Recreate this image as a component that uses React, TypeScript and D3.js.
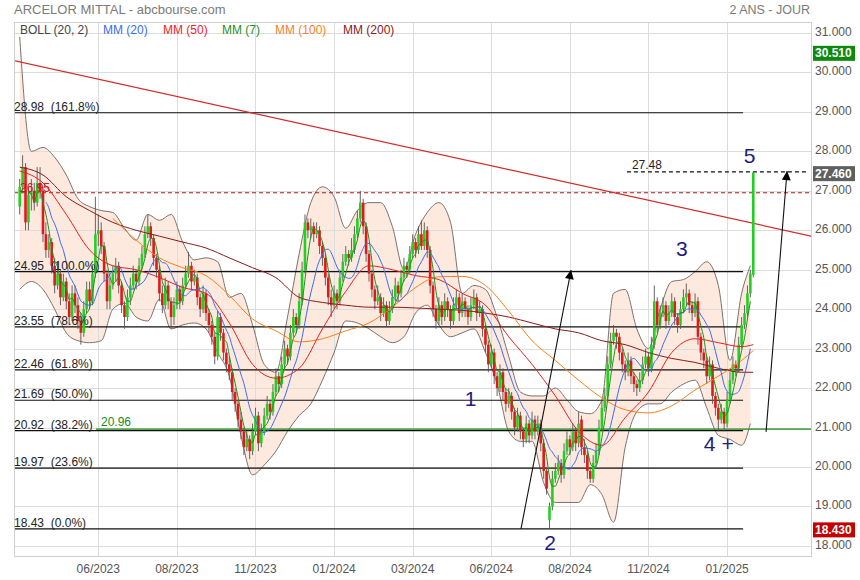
import React from 'react';
import * as d3 from 'd3';

// ---------- DATA ----------
const opens = [
  26.6, 27.1, 27.6, 26.2, 26.9, 27.0, 26.7, 27.2, 27.0, 25.9,
  25.5, 25.7, 25.1, 24.6, 24.9, 24.3, 24.7, 24.2, 23.8, 24.4,
  24.1, 23.7, 23.4, 24.0, 24.5, 24.2, 24.9, 25.9, 26.0, 25.6,
  24.9, 24.2, 24.6, 24.9, 25.1, 24.6, 24.1, 23.8, 24.3, 24.6,
  24.9, 24.7, 25.1, 25.4, 25.9, 26.1, 25.8, 25.3, 25.0, 24.4,
  24.1, 24.6, 24.2, 23.8, 24.1, 24.5, 24.2, 24.6, 24.9, 25.1,
  24.7, 24.8, 24.3, 24.0, 24.4, 23.9, 23.6, 23.3, 22.8, 23.8,
  23.4, 22.9, 22.6, 22.4, 21.9, 21.6, 21.2, 20.9, 20.5, 20.7,
  20.4, 20.9, 21.3, 20.6, 20.9, 21.3, 21.6, 21.4, 21.9, 22.3,
  22.1, 22.6, 23.0, 22.8, 23.4, 23.8, 23.6, 24.2, 25.0, 26.2,
  26.0, 26.1, 25.9, 26.0, 25.6, 25.3, 24.8, 24.3, 24.1, 24.4,
  24.2, 24.8, 25.2, 25.4, 25.3, 25.5, 25.9, 26.3, 26.7, 26.1,
  25.4, 24.9, 24.5, 24.2, 24.3, 23.9, 24.1, 23.7, 24.0, 24.3,
  24.6, 24.4, 24.8, 25.1, 25.0, 25.4, 25.7, 25.5, 25.9, 25.6,
  26.0, 25.5, 24.6, 24.0, 23.7, 24.1, 23.8, 24.2, 24.0, 23.7,
  24.1, 24.3, 23.9, 24.2, 24.0, 23.8, 24.1, 24.3, 23.9, 24.0,
  23.5, 23.1, 22.6, 22.9, 22.3, 22.0, 22.4, 21.9, 21.6, 21.8,
  21.4, 21.0, 21.3, 20.9, 20.7, 21.1, 20.8, 21.2, 20.9, 21.1,
  20.6, 19.9, 18.65, 19.0, 19.7, 19.9, 20.1, 19.8, 20.4, 20.7,
  20.5, 20.9, 20.6, 21.2, 20.5, 20.3, 19.9, 19.7, 20.1, 20.4,
  21.0, 21.5, 21.8, 22.6, 23.2, 23.4, 23.3, 22.9, 22.6, 22.4,
  22.7, 22.3, 22.1, 22.0, 22.2, 22.6, 22.8, 22.5, 23.1, 24.2,
  23.6, 23.9, 24.1, 23.7, 23.9, 24.2, 23.8, 23.6, 24.0, 24.3,
  24.4, 24.1, 23.9, 24.2, 23.3, 22.9, 22.7, 22.3, 22.6, 21.8,
  21.5, 21.2, 21.4, 21.1, 21.7, 22.2, 22.6, 22.5, 23.1, 23.6,
  23.9, 24.4, 24.87,
];
const highs = [
  27.3, 27.9, 27.7, 27.1, 27.3, 27.2, 27.6, 27.6, 27.1, 26.2,
  25.9, 25.8, 25.3, 25.2, 25.0, 24.9, 24.8, 24.4, 24.6, 24.6,
  24.3, 23.9, 24.2, 24.7, 24.7, 25.1, 26.85, 26.4, 26.2, 25.7,
  25.0, 24.8, 25.1, 25.3, 25.2, 24.7, 24.2, 24.5, 24.8, 25.1,
  25.0, 25.3, 25.6, 26.1, 26.4, 26.2, 25.9, 25.4, 25.1, 24.6,
  24.8, 24.7, 24.3, 24.3, 24.7, 24.6, 24.8, 25.1, 25.45, 25.2,
  25.0, 24.9, 24.4, 24.6, 24.5, 24.0, 23.7, 23.4, 23.95, 23.9,
  23.5, 23.0, 22.8, 22.5, 22.0, 21.7, 21.4, 21.0, 20.9, 20.8,
  21.1, 21.5, 21.4, 21.1, 21.5, 21.8, 21.7, 22.1, 22.5, 22.4,
  22.8, 23.2, 23.1, 23.6, 24.0, 23.9, 24.4, 25.2, 26.4, 26.3,
  26.3, 26.2, 26.2, 26.1, 25.7, 25.4, 24.9, 24.5, 24.6, 24.5,
  25.0, 25.4, 25.6, 25.5, 25.8, 26.1, 26.5, 27.0, 26.8, 26.2,
  25.5, 25.0, 24.6, 24.6, 24.4, 24.3, 24.2, 24.2, 24.5, 24.8,
  24.7, 25.0, 25.3, 25.2, 25.6, 25.9, 25.8, 26.1, 26.25, 26.2,
  26.1, 25.6, 24.7, 24.1, 24.3, 24.2, 24.4, 24.3, 24.1, 24.3,
  24.5, 24.4, 24.4, 24.3, 24.1, 24.3, 24.5, 24.4, 24.2, 24.1,
  23.6, 23.2, 23.1, 23.0, 22.4, 22.6, 22.5, 22.0, 22.0, 21.9,
  21.5, 21.5, 21.4, 21.0, 21.3, 21.2, 21.4, 21.3, 21.3, 21.2,
  20.7, 20.0, 19.1, 19.9, 20.1, 20.3, 20.2, 20.6, 20.9, 20.8,
  21.1, 21.0, 21.4, 21.3, 20.7, 20.4, 20.0, 20.3, 20.6, 21.2,
  21.7, 22.0, 22.8, 23.4, 23.6, 23.5, 23.4, 23.0, 22.7, 22.9,
  22.8, 22.4, 22.2, 22.4, 22.8, 23.0, 22.9, 23.3, 24.6, 24.3,
  24.1, 24.3, 24.2, 24.1, 24.4, 24.3, 23.9, 24.2, 24.5, 24.65,
  24.5, 24.2, 24.4, 24.3, 23.4, 23.0, 22.8, 22.8, 22.7, 21.9,
  21.6, 21.6, 21.5, 21.9, 22.4, 22.8, 22.7, 23.3, 23.8, 24.1,
  24.6, 25.0, 27.48,
];
const lows = [
  26.4, 27.0, 26.0, 26.0, 26.5, 26.5, 26.6, 26.8, 25.7, 25.3,
  25.3, 24.9, 24.4, 24.5, 24.1, 24.2, 24.0, 23.6, 23.7, 23.9,
  23.5, 23.1, 23.3, 23.9, 24.0, 24.1, 24.8, 25.6, 25.4, 24.7,
  24.0, 24.0, 24.5, 24.7, 24.4, 23.9, 23.5, 23.7, 24.1, 24.5,
  24.5, 24.6, 25.0, 25.3, 25.8, 25.6, 25.1, 24.8, 24.2, 23.9,
  24.0, 24.0, 23.5, 23.6, 24.0, 24.0, 24.1, 24.5, 24.8, 24.5,
  24.6, 24.1, 23.8, 23.9, 23.7, 23.4, 23.1, 22.6, 22.7, 23.2,
  22.7, 22.4, 22.2, 21.7, 21.4, 21.0, 20.7, 20.3, 20.4, 20.2,
  20.3, 20.8, 20.4, 20.5, 20.8, 21.2, 21.2, 21.3, 21.8, 21.9,
  22.0, 22.5, 22.6, 22.7, 23.3, 23.4, 23.5, 24.1, 24.9, 25.8,
  25.8, 25.7, 25.8, 25.4, 25.1, 24.6, 24.1, 23.8, 24.0, 24.0,
  24.1, 24.7, 25.1, 25.1, 25.2, 25.4, 25.8, 26.2, 25.9, 25.2,
  24.7, 24.3, 24.0, 24.1, 23.7, 23.8, 23.55, 23.6, 23.9, 24.2,
  24.2, 24.3, 24.7, 24.8, 24.9, 25.3, 25.3, 25.4, 25.5, 25.5,
  25.3, 24.4, 23.8, 23.5, 23.6, 23.6, 23.7, 23.8, 23.5, 23.6,
  24.0, 23.7, 23.8, 23.8, 23.6, 23.7, 24.0, 23.7, 23.8, 23.3,
  22.9, 22.4, 22.5, 22.1, 21.8, 21.9, 21.7, 21.4, 21.5, 21.2,
  20.8, 20.9, 20.7, 20.5, 20.6, 20.6, 20.7, 20.7, 20.8, 20.4,
  19.7, 19.3, 18.43, 18.9, 19.6, 19.8, 19.6, 19.7, 20.3, 20.3,
  20.4, 20.4, 20.5, 20.3, 20.1, 19.7, 19.6, 19.6, 20.0, 20.3,
  20.9, 21.4, 21.7, 22.5, 23.1, 23.0, 22.7, 22.4, 22.2, 22.3,
  22.1, 21.9, 21.8, 21.9, 22.1, 22.5, 22.3, 22.4, 23.0, 23.4,
  23.5, 23.8, 23.5, 23.6, 23.8, 23.6, 23.4, 23.5, 23.9, 24.1,
  23.9, 23.7, 23.8, 23.1, 22.7, 22.5, 22.1, 22.2, 21.6, 21.3,
  20.9, 21.1, 20.9, 21.0, 21.6, 22.1, 22.3, 22.4, 23.0, 23.5,
  23.8, 24.3, 24.8,
];
const closes = [
  27.1, 27.6, 26.2, 26.9, 27.0, 26.7, 27.2, 27.0, 25.9, 25.5,
  25.7, 25.1, 24.6, 24.9, 24.3, 24.7, 24.2, 23.8, 24.4, 24.1,
  23.7, 23.4, 24.0, 24.5, 24.2, 24.9, 25.9, 26.0, 25.6, 24.9,
  24.2, 24.6, 24.9, 25.1, 24.6, 24.1, 23.8, 24.3, 24.6, 24.9,
  24.7, 25.1, 25.4, 25.9, 26.1, 25.8, 25.3, 25.0, 24.4, 24.1,
  24.6, 24.2, 23.8, 24.1, 24.5, 24.2, 24.6, 24.9, 25.1, 24.7,
  24.8, 24.3, 24.0, 24.4, 23.9, 23.6, 23.3, 22.8, 23.8, 23.4,
  22.9, 22.6, 22.4, 21.9, 21.6, 21.2, 20.9, 20.5, 20.7, 20.4,
  20.9, 21.3, 20.6, 20.9, 21.3, 21.6, 21.4, 21.9, 22.3, 22.1,
  22.6, 23.0, 22.8, 23.4, 23.8, 23.6, 24.2, 25.0, 26.2, 26.0,
  26.1, 25.9, 26.0, 25.6, 25.3, 24.8, 24.3, 24.1, 24.4, 24.2,
  24.8, 25.2, 25.4, 25.3, 25.5, 25.9, 26.3, 26.7, 26.1, 25.4,
  24.9, 24.5, 24.2, 24.3, 23.9, 24.1, 23.7, 24.0, 24.3, 24.6,
  24.4, 24.8, 25.1, 25.0, 25.4, 25.7, 25.5, 25.9, 25.6, 26.0,
  25.5, 24.6, 24.0, 23.7, 24.1, 23.8, 24.2, 24.0, 23.7, 24.1,
  24.3, 23.9, 24.2, 24.0, 23.8, 24.1, 24.3, 23.9, 24.0, 23.5,
  23.1, 22.6, 22.9, 22.3, 22.0, 22.4, 21.9, 21.6, 21.8, 21.4,
  21.0, 21.3, 20.9, 20.7, 21.1, 20.8, 21.2, 20.9, 21.1, 20.6,
  19.9, 19.45, 19.0, 19.7, 19.9, 20.1, 19.8, 20.4, 20.7, 20.5,
  20.9, 20.6, 21.1, 20.5, 20.3, 19.9, 19.7, 20.1, 20.4, 21.0,
  21.5, 21.8, 22.6, 23.2, 23.4, 23.3, 22.9, 22.6, 22.4, 22.7,
  22.3, 22.1, 22.0, 22.2, 22.6, 22.8, 22.5, 23.1, 24.2, 23.6,
  23.9, 24.1, 23.7, 23.9, 24.2, 23.8, 23.6, 24.0, 24.3, 24.4,
  24.1, 23.9, 24.2, 23.3, 22.9, 22.7, 22.3, 22.6, 21.8, 21.5,
  21.2, 21.4, 21.1, 21.7, 22.2, 22.6, 22.5, 23.1, 23.6, 23.9,
  24.4, 24.9, 27.46,
];

// Bollinger (20,2) read every 4 sessions
const bollUpper = [
  30.9, 28.0, 28.1, 27.85, 27.4, 26.8, 26.6, 26.5, 26.45, 26.05,
  25.75, 26.4, 26.25, 26.4, 25.7, 25.25, 25.3, 25.2, 24.3, 24.4,
  23.6, 22.6, 22.4, 23.8, 25.4, 26.7, 27.1, 26.85, 26.05, 26.5,
  26.7, 26.7, 26.1, 25.0, 25.9, 26.45, 26.7, 26.2, 24.4, 24.6,
  24.5, 23.8, 22.8, 21.9, 21.8, 21.8, 22.0, 21.7, 21.4, 21.35,
  21.7, 24.4, 24.5, 23.5, 23.0, 24.0, 24.7, 24.75, 24.95, 25.2,
  24.6, 22.7, 24.4, 25.1,
];
const bollLower = [
  24.5, 24.7, 24.5, 24.0, 23.4, 23.2, 23.15, 23.2, 24.0, 24.15,
  23.8, 23.7, 24.25, 23.5, 23.6, 23.65, 23.5, 22.9, 22.3, 20.8,
  19.8, 20.05, 20.4, 20.9, 21.3, 21.6, 22.2, 22.9, 23.7, 23.65,
  23.5, 23.3, 23.15, 23.3, 23.9, 24.1, 23.6, 23.3, 23.4, 23.5,
  22.9, 22.1, 20.9, 20.65, 20.65, 19.6, 19.1, 19.1, 19.1, 19.55,
  19.3, 18.6, 20.5, 21.4, 21.6, 21.6, 21.9, 22.1, 22.2, 21.5,
  20.8, 20.7, 20.55, 21.1,
];

// Long moving averages read every 8 sessions (+ last session)
const mm50 = [
  27.5, 27.2, 26.4, 25.5, 25.1, 25.0, 24.8, 24.55, 24.4, 23.65,
  22.6, 22.25, 22.5, 23.5, 24.45, 25.1, 25.0, 24.85, 24.75, 24.4,
  24.1, 23.3, 22.6, 21.8, 20.9, 20.55, 21.25, 21.9, 22.9, 23.25,
  23.15, 23.05, 23.1,
];
const mm100 = [
  null, null, null, null, 26.3, 25.75, 25.3, 25.05, 24.85, 24.35,
  23.75, 23.45, 23.17, 23.25, 23.45, 23.65, 24.05, 24.55, 24.82, 24.83,
  24.6, 23.95, 23.2, 22.7, 22.2, 21.75, 21.45, 21.37, 21.55, 21.95,
  22.3, 22.7, 22.95,
];
const mm200 = [
  27.6, 27.4, 26.85, 26.5, 26.2, 26.0, 25.85, 25.7, 25.55, 25.3,
  25.05, 24.8, 24.3, 24.17, 24.1, 24.05, 24.05, 24.03, 24.0, 23.97,
  23.9, 23.8, 23.65, 23.5, 23.4, 23.2, 23.1, 22.9, 22.75, 22.65,
  22.5, 22.4, 22.4,
];

const yTickValues = [31, 30, 29, 28, 27, 26, 25, 24, 23, 22, 21, 20, 19, 18];
const xTickIndex = [27, 54, 81, 108, 135, 162, 189, 216, 243];
const xTickLabels = ['06/2023', '08/2023', '11/2023', '01/2024', '03/2024', '06/2024', '08/2024', '11/2024', '01/2025'];

const fibLevels = [28.98, 24.95, 23.55, 22.46, 21.69, 20.92, 19.97, 18.43];
const fibPercents = ['161.8%', '100.0%', '78.6%', '61.8%', '50.0%', '38.2%', '23.6%', '0.0%'];
const fibEndIndex = 248.5;

const supportLevel = 20.96;
const supportStartIndex = 26.2;
const resistLevel = 26.95;
const targetLevel = 27.48;
const targetStartIndex = 208.6;
const trendPoints: [number, number][] = [[-2, 30.3], [272, 25.85]];
const arrows: [number, number, number, number][] = [
  [172.2, 18.43, 189.4, 24.99],
  [256.4, 20.89, 263.6, 27.5],
];
const waveLabels = [
  { t: '1', i: 154.9, v: 21.55 },
  { t: '2', i: 182.2, v: 17.9 },
  { t: '3', i: 227.5, v: 25.35 },
  { t: '4', i: 237.0, v: 20.4 },
  { t: '+', i: 243.2, v: 20.4 },
  { t: '5', i: 250.7, v: 27.7 },
];
const priceTags = [
  { v: 30.51, color: '#0b8a0b' },
  { v: 27.46, color: '#5f5f5f' },
  { v: 18.43, color: '#c40000' },
];
const legendItems = [
  { t: 'BOLL (20, 2)', c: '#444444' },
  { t: 'MM (20)', c: '#3a6cf4' },
  { t: 'MM (50)', c: '#f01e1e' },
  { t: 'MM (7)', c: '#1f8f1f' },
  { t: 'MM (100)', c: '#ff7f1a' },
  { t: 'MM (200)', c: '#8b1a1a' },
];

function sma(arr: number[], n: number): (number | null)[] {
  return arr.map((_, i) => (i < n - 1 ? null : (d3.mean(arr.slice(i - n + 1, i + 1)) as number)));
}

const FONT = "Arial, 'Liberation Sans', Helvetica, sans-serif";

export default function App() {
  const N = closes.length;
  const L = 14, R = 811, T = 22, B = 556;
  const x = d3.scaleLinear().domain([0, N - 1]).range([19.7, 19.7 + (N - 1) * 2.911]);
  const y = d3.scaleLinear().domain([18, 31]).range([545.85, 33]);

  const bandData = bollUpper.map((u, k) => ({ i: Math.min(k * 4, N - 2), up: u, lo: bollLower[k] }));
  const bandArea = d3.area<any>().x((d) => x(d.i)).y0((d) => y(d.lo)).y1((d) => y(d.up)).curve(d3.curveMonotoneX);
  const upLine = d3.line<any>().x((d) => x(d.i)).y((d) => y(d.up)).curve(d3.curveMonotoneX);
  const loLine = d3.line<any>().x((d) => x(d.i)).y((d) => y(d.lo)).curve(d3.curveMonotoneX);

  const maPts = (vals: (number | null)[]) => vals.map((v, k) => ({ i: Math.min(k * 8, N - 1), v }));
  const maLine = d3
    .line<any>()
    .defined((d) => d.v != null)
    .x((d) => x(d.i))
    .y((d) => y(d.v))
    .curve(d3.curveMonotoneX);
  const closesBeforeLast = closes.slice(0, N - 1);
  const m7 = sma(closesBeforeLast, 4).map((v, i) => ({ i, v }));
  const m20 = sma(closesBeforeLast, 10).map((v, i) => ({ i, v }));

  const trend = d3.line<[number, number]>().x((d) => x(d[0])).y((d) => y(d[1]));

  return (
    <svg
      width={860}
      height={580}
      style={{ position: 'absolute', left: 0, top: 0, background: '#fff' }}
      fontFamily={FONT}
    >
      <defs>
        <clipPath id="plot">
          <rect x={L} y={T} width={R - L} height={B - T} />
        </clipPath>
        <marker id="ah" viewBox="0 0 10 10" refX="10" refY="5" markerWidth="11" markerHeight="9" markerUnits="userSpaceOnUse" orient="auto">
          <path d="M0,0 L10,5 L0,10 z" fill="#000" />
        </marker>
      </defs>
      <rect x={0} y={0} width={860} height={580} fill="#fff" />

      {/* title */}
      <text x={14} y={14} fontSize={13} fill="#7a7a7a">ARCELOR MITTAL - abcbourse.com</text>
      <text x={810} y={14} fontSize={12.5} fill="#7a7a7a" textAnchor="end">2 ANS - JOUR</text>

      <g clipPath="url(#plot)">
        {/* bollinger fill */}
        <path d={bandArea(bandData) || ''} fill="#fde9dd" />
        {/* grid */}
        {yTickValues.map((v) => (
          <line key={'gy' + v} x1={L} x2={R} y1={Math.round(y(v)) + 0.5} y2={Math.round(y(v)) + 0.5} stroke="#dcdcdc" />
        ))}
        {xTickIndex.map((i) => (
          <line key={'gx' + i} x1={Math.round(x(i)) + 0.5} x2={Math.round(x(i)) + 0.5} y1={T} y2={B} stroke="#dcdcdc" />
        ))}
        <path d={upLine(bandData) || ''} fill="none" stroke="#7d716a" strokeWidth={1} />
        <path d={loLine(bandData) || ''} fill="none" stroke="#7d716a" strokeWidth={1} />

        {/* fibonacci levels */}
        {fibLevels.map((v) => (
          <line key={'f' + v} x1={L} x2={x(fibEndIndex)} y1={y(v)} y2={y(v)} stroke="#111" strokeWidth={1.1} />
        ))}
        {/* resistance dashed */}
        <line x1={L} x2={R} y1={y(resistLevel)} y2={y(resistLevel)} stroke="#b01818" strokeDasharray="4,3" strokeWidth={1.1} />
        {/* trend line */}
        <path d={trend(trendPoints) || ''} stroke="#d42a2a" strokeWidth={1.2} fill="none" />
        {/* support green */}
        <line x1={x(supportStartIndex)} x2={R} y1={y(supportLevel)} y2={y(supportLevel)} stroke="#1a8a1a" strokeWidth={1.3} />
        {/* target dashed */}
        <line x1={x(targetStartIndex)} x2={R - 3} y1={y(targetLevel)} y2={y(targetLevel)} stroke="#111" strokeDasharray="4,3" strokeWidth={1.1} />

        {/* candles */}
        {closes.map((c, i) => {
          const o = opens[i];
          const up = c >= o;
          const cx = x(i);
          const top = y(Math.max(o, c));
          const bot = y(Math.min(o, c));
          return (
            <g key={'c' + i}>
              <line x1={cx} x2={cx} y1={y(highs[i])} y2={y(lows[i])} stroke="#555" strokeWidth={0.9} />
              <rect x={cx - 1.3} y={top} width={2.6} height={Math.max(1, bot - top)} fill={up ? '#22d022' : '#e01a1a'} />
            </g>
          );
        })}

        {/* moving averages */}
        <path d={maLine(maPts(mm200)) || ''} fill="none" stroke="#8b1a1a" strokeWidth={1} />
        <path d={maLine(maPts(mm100)) || ''} fill="none" stroke="#ff7f1a" strokeWidth={1} />
        <path d={maLine(maPts(mm50)) || ''} fill="none" stroke="#f01e1e" strokeWidth={1} />
        <path d={maLine(m20) || ''} fill="none" stroke="#3a6cf4" strokeWidth={1} />
        <path d={maLine(m7) || ''} fill="none" stroke="#1f8f1f" strokeWidth={1} />

        {/* arrows */}
        {arrows.map((a, k) => (
          <line key={'a' + k} x1={x(a[0])} y1={y(a[1])} x2={x(a[2])} y2={y(a[3])} stroke="#111" strokeWidth={1.1} markerEnd="url(#ah)" />
        ))}
      </g>

      {/* plot frame */}
      <rect x={L + 0.5} y={T + 0.5} width={R - L} height={B - T} fill="none" stroke="#cfcfcf" />

      {/* legend */}
      {legendItems.map((d, k) => (
        <text key={'lg' + k} x={[20, 103, 163, 222, 275, 343][k]} y={34} fontSize={12} fill={d.c}>
          {d.t}
        </text>
      ))}

      {/* fib labels */}
      {fibLevels.map((v, k) => (
        <text key={'fl' + v} x={L} y={y(v) - 2} fontSize={12} fill="#222" style={{ whiteSpace: 'pre' }}>
          {`${v.toFixed(2)}  (${fibPercents[k]})`}
        </text>
      ))}
      <text x={20} y={y(resistLevel) - 1} fontSize={12} fill="#c41a1a">{resistLevel.toFixed(2)}</text>
      <text x={x(supportStartIndex) + 5} y={y(supportLevel) - 3} fontSize={12} fill="#1a8a1a">{supportLevel.toFixed(2)}</text>
      <text x={x(targetStartIndex) + 5} y={y(targetLevel) - 3} fontSize={12} fill="#222">{targetLevel.toFixed(2)}</text>

      {/* wave labels */}
      {waveLabels.map((w, k) => (
        <text key={'w' + k} x={x(w.i)} y={y(w.v)} fontSize={21} fill="#1c1c84" textAnchor="middle">
          {w.t}
        </text>
      ))}

      {/* y axis */}
      {yTickValues.map((v) => (
        <text key={'yt' + v} x={815} y={y(v) + 3} fontSize={12} fill="#555">
          {v.toFixed(3)}
        </text>
      ))}
      {priceTags.map((p) => (
        <g key={'pt' + p.v}>
          <rect x={813} y={y(p.v) - 6.5} width={42} height={15} fill={p.color} />
          <text x={815} y={y(p.v) + 5} fontSize={12} fontWeight="bold" fill="#fff">
            {p.v.toFixed(3)}
          </text>
        </g>
      ))}

      {/* x axis */}
      {xTickIndex.map((i, k) => (
        <text key={'xt' + i} x={x(i)} y={573} fontSize={12} fill="#555" textAnchor="middle">
          {xTickLabels[k]}
        </text>
      ))}
    </svg>
  );
}
